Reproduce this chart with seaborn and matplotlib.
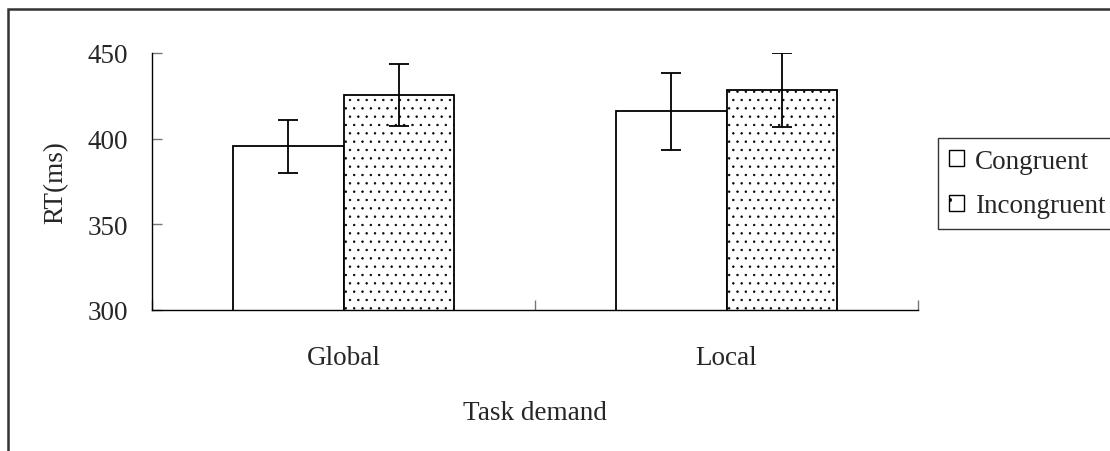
import pandas as pd
import seaborn as sns
import matplotlib.pyplot as plt
from matplotlib.patches import Rectangle, Patch

# Set style
sns.set_theme(style="white")
plt.rcParams['font.family'] = ['Liberation Serif', 'DejaVu Serif']
plt.rcParams['font.size'] = 19.5
plt.rcParams['axes.labelsize'] = 19.5
plt.rcParams['xtick.labelsize'] = 19.5
plt.rcParams['ytick.labelsize'] = 19.5
plt.rcParams['hatch.color'] = '#666666'
plt.rcParams['hatch.linewidth'] = 0.5

# Data
tasks = ["Global", "Local"]
conditions = ["Congruent", "Incongruent"]
congruent_rt = [395.5, 416]
incongruent_rt = [425.5, 428.5]
congruent_err = [15.5, 22.5]
incongruent_err = [18, 21.5]

df = pd.DataFrame({
    "Task demand": tasks * 2,
    "Condition": [conditions[0]] * 2 + [conditions[1]] * 2,
    "RT": congruent_rt + incongruent_rt,
    "err": congruent_err + incongruent_err,
})

fig = plt.figure(figsize=(11.1, 4.52), dpi=100)
ax = fig.add_axes([152 / 1110, 1 - 311 / 452, (918 - 152) / 1110, (311 - 54) / 452])

sns.barplot(data=df, x="Task demand", y="RT", hue="Condition", order=tasks,
            hue_order=conditions, palette=["white", "white"], width=0.575,
            errorbar=None, edgecolor="black", linewidth=1.3, legend=False, ax=ax)

# hatch the incongruent bars and add error bars
for cond, container in zip(conditions, ax.containers):
    sub = df[df["Condition"] == cond].set_index("Task demand").loc[tasks]
    for bar, m, e in zip(container.patches, sub["RT"], sub["err"]):
        if cond == "Incongruent":
            bar.set_hatch("..")
        x = bar.get_x() + bar.get_width() / 2
        ax.errorbar(x, m, yerr=e, fmt="none", ecolor="black", elinewidth=1.3,
                    capsize=7, capthick=1.3, zorder=5)

ax.set_ylim(300, 450)
ax.set_xlim(-0.5, 1.5)
ax.set_yticks([300, 350, 400, 450])
ax.set_xlabel("Task demand", labelpad=22)
ax.set_ylabel("RT(ms)", labelpad=14)

for s in ["top", "right"]:
    ax.spines[s].set_visible(False)
for s in ["left", "bottom"]:
    ax.spines[s].set_color("black")
    ax.spines[s].set_linewidth(1.0)

ax.tick_params(axis="y", left=True, direction="in", length=7, width=1,
               color="#777777", pad=17)
ax.tick_params(axis="x", which="major", bottom=True, length=0, pad=25)
ax.set_xticks([-0.5, 0.5, 1.5], minor=True)
ax.tick_params(axis="x", which="minor", bottom=True, direction="in", length=7,
               width=1, color="#777777")

handles = [Patch(facecolor="white", edgecolor="black", linewidth=1),
           Patch(facecolor="white", edgecolor="black", linewidth=1, hatch=".")]
leg = fig.legend(handles, conditions, loc="upper left",
                 bbox_to_anchor=(938 / 1110, 1 - 139 / 452), borderaxespad=0,
                 frameon=True, fancybox=False, edgecolor="black",
                 handlelength=0.55, handleheight=0.55, handletextpad=0.4,
                 borderpad=0.4, labelspacing=0.72, fontsize=19.5)
leg.get_frame().set_linewidth(1.0)

# outer figure border (cut off at right and bottom)
fig.patches.append(Rectangle((8 / 1110, -0.1), 1.2, 1 - 10 / 452 + 0.1,
                             transform=fig.transFigure, fill=False,
                             edgecolor="#333333", linewidth=1.8))

plt.savefig("out.png", dpi=100)
plt.close()
